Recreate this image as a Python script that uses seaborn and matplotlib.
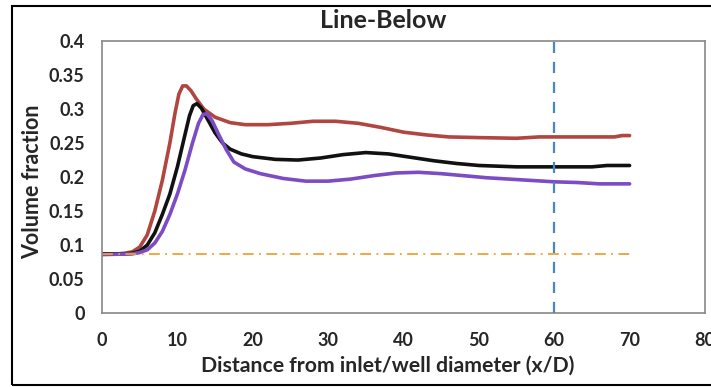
import pandas as pd
import matplotlib
matplotlib.use("Agg")
import matplotlib.pyplot as plt
import seaborn as sns
from matplotlib.patches import Rectangle


# DATA

red_x = [0, 2, 3, 4, 5, 6, 7, 8, 9, 9.7, 10.2, 10.7, 11.2, 11.8, 12.5, 13.5, 15, 17, 19, 22,
         25, 28, 31, 34, 37, 40, 43, 46, 50, 55, 58, 60, 65, 68, 69, 70]
red_y = [0.087, 0.087, 0.088, 0.090, 0.097, 0.115, 0.150, 0.195, 0.250, 0.295, 0.322, 0.334,
         0.334, 0.327, 0.315, 0.300, 0.288, 0.280, 0.277, 0.277, 0.279, 0.282, 0.282, 0.279,
         0.273, 0.266, 0.262, 0.259, 0.258, 0.257, 0.259, 0.259, 0.259, 0.259, 0.261, 0.261]

black_x = [0, 3, 4, 5, 6, 7, 8, 9, 10, 11, 11.6, 12.1, 12.6, 13.2, 14, 15, 16, 17, 18.5, 20,
           23, 26, 29, 32, 35, 38, 41, 44, 47, 50, 55, 60, 65, 67, 70]
black_y = [0.087, 0.087, 0.088, 0.091, 0.100, 0.118, 0.145, 0.175, 0.215, 0.262, 0.290, 0.305,
           0.308, 0.301, 0.285, 0.265, 0.250, 0.241, 0.234, 0.230, 0.226, 0.225, 0.228, 0.233,
           0.236, 0.234, 0.229, 0.224, 0.220, 0.217, 0.215, 0.215, 0.215, 0.217, 0.217]

purple_x = [0, 4, 5, 6, 7, 8, 9, 10, 11, 12, 12.8, 13.4, 13.9, 14.6, 15.5, 16.5, 17.5, 19, 21,
            24, 27, 30, 33, 36, 39, 42, 45, 48, 51, 54, 57, 60, 63, 66, 70]
purple_y = [0.086, 0.087, 0.089, 0.093, 0.103, 0.120, 0.145, 0.175, 0.210, 0.250, 0.279, 0.292,
            0.293, 0.283, 0.262, 0.240, 0.222, 0.212, 0.205, 0.198, 0.194, 0.194, 0.197, 0.202,
            0.206, 0.207, 0.205, 0.202, 0.199, 0.197, 0.195, 0.193, 0.192, 0.190, 0.190]

inlet_x = [0, 70]
inlet_y = [0.087, 0.087]
marker_x = 60

x_ticks = [0, 10, 20, 30, 40, 50, 60, 70, 80]
y_ticks = [0, 0.05, 0.1, 0.15, 0.2, 0.25, 0.3, 0.35, 0.4]
y_tick_labels = ["0", "0.05", "0.1", "0.15", "0.2", "0.25", "0.3", "0.35", "0.4"]

colors = {"red": "#b0463f", "black": "#111111", "purple": "#7b4cc4"}


df = pd.concat([
    pd.DataFrame({"x": red_x, "y": red_y, "series": "red"}),
    pd.DataFrame({"x": black_x, "y": black_y, "series": "black"}),
    pd.DataFrame({"x": purple_x, "y": purple_y, "series": "purple"}),
], ignore_index=True)

sns.set_style("white")
plt.rcParams["font.family"] = ["Lato", "DejaVu Sans"]

fig = plt.figure(figsize=(7.11, 3.87), dpi=100)
ax = fig.add_axes([0.1435, 0.191, 0.848, 0.703])

sns.lineplot(data=df, x="x", y="y", hue="series", palette=colors, sort=False,
             linewidth=2.6, legend=False, ax=ax)
sns.lineplot(x=inlet_x, y=inlet_y, color="#f0a030", linewidth=1.3, ax=ax,
             linestyle=(0, (6, 3, 1, 3)))
ax.axvline(marker_x, color="#4a86c5", linewidth=1.6, linestyle=(0, (5, 4)), zorder=5)

ax.set_xlim(0, 80)
ax.set_ylim(0, 0.4)
ax.set_xticks(x_ticks)
ax.set_yticks(y_ticks)
ax.set_yticklabels(y_tick_labels)
ax.tick_params(axis="both", direction="out", length=3.5, width=1, color="#888888",
               labelsize=13)
ax.tick_params(axis="x", pad=10)
ax.tick_params(axis="y", pad=9)
for lab in ax.get_xticklabels() + ax.get_yticklabels():
    lab.set_fontweight("bold")
for sp in ax.spines.values():
    sp.set_color("#888888")
    sp.set_linewidth(1.2)
ax.set_xlabel("")
ax.set_ylabel("")

fig.text(0.539, 0.946, "Line-Below", ha="center", va="center",
         fontsize=18, fontweight="bold")
fig.text(0.545, 0.054, "Distance from inlet/well diameter (x/D)", ha="center",
         va="center", fontsize=15.3, fontweight="bold")
fig.text(0.046, 0.530, "Volume fraction", ha="center", va="center", rotation=90,
         fontsize=15.5, fontweight="bold")

# outer frame of the picture
fig.patches.append(Rectangle((0.017, 0.006), 1.2, 0.979, transform=fig.transFigure,
                             fill=False, edgecolor="black", linewidth=1.5))

plt.savefig("out.png", dpi=100)
